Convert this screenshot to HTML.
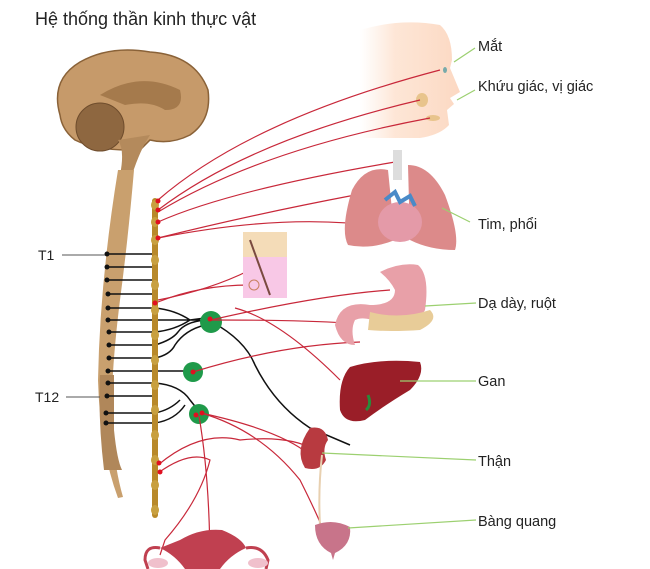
<!DOCTYPE html>
<html><head><meta charset="utf-8">
<style>
html,body{margin:0;padding:0;background:#fff;}
svg{display:block;}
text{font-family:"Liberation Sans",sans-serif;fill:#222;}
</style></head><body>
<svg width="650" height="569" viewBox="0 0 650 569" xmlns="http://www.w3.org/2000/svg">
<defs>
<linearGradient id="face" x1="0" y1="0" x2="1" y2="0"><stop offset="0" stop-color="#fde4d4" stop-opacity="0"/><stop offset="0.35" stop-color="#fde0cc" stop-opacity="0.8"/><stop offset="1" stop-color="#fcd8c2"/></linearGradient>
</defs>
<text x="35" y="25" font-size="18">Hệ thống thần kinh thực vật</text>

<!-- face -->
<path d="M360,30 Q400,18 440,25 Q452,35 452,60 L450,68 L460,92 L450,98 L454,104 L447,110 L449,125 Q440,135 420,138 L360,138Z" fill="url(#face)"/>
<ellipse cx="445" cy="70" rx="2" ry="3" fill="#7aa"/>
<ellipse cx="422" cy="100" rx="6" ry="7" fill="#e8c48c"/>
<ellipse cx="433" cy="118" rx="7" ry="3" fill="#e8c48c"/>

<!-- brain -->
<path d="M60,115 Q50,80 80,62 Q110,45 150,52 Q195,55 208,90 Q212,120 190,135 Q170,145 150,140 L140,150 L130,150 Q95,150 75,140 Q62,130 60,115Z" fill="#c69a6a" stroke="#8a6238" stroke-width="1.5"/>
<path d="M100,95 Q140,70 180,90 Q185,110 165,110 Q150,100 125,105Z" fill="#a57a4c"/>
<circle cx="100" cy="127" r="24" fill="#8e6740" stroke="#6e4c2c"/>
<path d="M118,140 Q125,150 120,175 L132,175 Q140,150 150,135Z" fill="#b48a5c"/>
<!-- spinal cord -->
<path d="M118,170 L134,170 Q128,240 120,300 Q110,380 112,430 Q115,470 123,497 L118,498 Q100,450 98,380 Q100,280 118,170Z" fill="#c9a06e"/>
<path d="M100,375 L114,375 L114,430 Q117,460 122,470 L104,470 Q98,420 100,375Z" fill="#b0875a"/>

<!-- horizontal black lines -->
<g stroke="#111" stroke-width="1.5" fill="none">
<path d="M107,254H155M107,267H155M107,280H155M108,294H155M108,308H155M108,320H155M109,332H155M109,345H155M109,358H155M108,371H155M108,383H155M107,396H155M106,413H155M106,423H155"/>
<path d="M155,308 Q175,310 190,320 L205,318 M155,320 H200 M155,332 Q175,330 190,320"/>
<path d="M155,345 Q172,340 178,332 Q185,322 205,320 M155,358 Q170,355 175,345 Q185,330 205,325"/>
<path d="M155,371 H190"/>
<path d="M155,383 Q180,385 190,400 L198,410 M155,413 Q170,410 180,400 M155,423 Q175,420 185,405"/>
<path d="M212,322 Q245,340 255,365 Q275,405 310,428 L350,445"/>
</g>
<g fill="#111">
<circle cx="107" cy="254" r="2.5"/><circle cx="107" cy="267" r="2.5"/><circle cx="107" cy="280" r="2.5"/><circle cx="108" cy="294" r="2.5"/><circle cx="108" cy="308" r="2.5"/><circle cx="108" cy="320" r="2.5"/><circle cx="109" cy="332" r="2.5"/><circle cx="109" cy="345" r="2.5"/><circle cx="109" cy="358" r="2.5"/><circle cx="108" cy="371" r="2.5"/><circle cx="108" cy="383" r="2.5"/><circle cx="107" cy="396" r="2.5"/><circle cx="106" cy="413" r="2.5"/><circle cx="106" cy="423" r="2.5"/>
</g>
<!-- sympathetic chain -->
<rect x="152" y="198" width="6" height="320" rx="3" fill="#b8892a"/>
<g fill="#c8a040">
<ellipse cx="155" cy="205" rx="4" ry="5"/><ellipse cx="155" cy="222" rx="4" ry="5"/><ellipse cx="155" cy="240" rx="4" ry="5"/>
<ellipse cx="155" cy="260" rx="4" ry="5"/><ellipse cx="155" cy="285" rx="4" ry="5"/><ellipse cx="155" cy="310" rx="4" ry="5"/><ellipse cx="155" cy="335" rx="4" ry="5"/><ellipse cx="155" cy="360" rx="4" ry="5"/><ellipse cx="155" cy="385" rx="4" ry="5"/><ellipse cx="155" cy="410" rx="4" ry="5"/><ellipse cx="155" cy="435" rx="4" ry="5"/><ellipse cx="155" cy="460" rx="4" ry="5"/><ellipse cx="155" cy="485" rx="4" ry="5"/><ellipse cx="155" cy="510" rx="4" ry="5"/>
</g>
<!-- ganglia -->
<circle cx="211" cy="322" r="11" fill="#1f9a4a"/>
<circle cx="193" cy="372" r="10" fill="#1f9a4a"/>
<circle cx="199" cy="414" r="10" fill="#1f9a4a"/>

<!-- red nerves -->
<g stroke="#c8283a" stroke-width="1.2" fill="none">
<path d="M158,200 Q250,120 440,70"/>
<path d="M158,210 Q250,140 420,100"/>
<path d="M158,212 Q260,150 430,118"/>
<path d="M158,222 Q230,190 395,162"/>
<path d="M158,238 Q250,215 355,195"/>
<path d="M158,238 Q300,210 400,230"/>
<path d="M158,302 Q200,285 250,285 L245,283"/>
<path d="M158,300 Q210,290 250,270"/>
<path d="M211,320 Q320,295 390,290"/>
<path d="M211,320 Q300,320 345,323"/>
<path d="M235,308 Q280,320 340,380"/>
<path d="M193,372 Q280,345 360,342"/>
<path d="M201,413 Q280,430 310,455"/>
<path d="M201,413 Q260,430 300,480 Q320,520 325,535"/>
<path d="M158,465 Q200,430 240,440 Q290,435 315,450"/>
<path d="M158,473 Q190,450 210,460 Q200,500 165,540 L160,555"/>
<path d="M199,416 Q210,480 210,569"/>
</g>
<g fill="#e01020">
<circle cx="158" cy="201" r="2.5"/><circle cx="158" cy="210" r="2.5"/><circle cx="158" cy="222" r="2.5"/><circle cx="158" cy="238" r="2.5"/><circle cx="155" cy="303" r="2.5"/><circle cx="210" cy="319" r="2.5"/><circle cx="193" cy="372" r="2.5"/><circle cx="196" cy="415" r="2.5"/><circle cx="202" cy="413" r="2.5"/><circle cx="159" cy="463" r="2.5"/><circle cx="160" cy="472" r="2.5"/>
</g>

<!-- skin -->
<rect x="243" y="232" width="44" height="66" fill="#f8c8e6"/>
<rect x="243" y="232" width="44" height="25" fill="#f4dcb8"/>
<path d="M250,240 L270,295" stroke="#7a4a40" stroke-width="2"/>
<circle cx="254" cy="285" r="5" fill="none" stroke="#c88060"/>

<!-- lungs -->
<rect x="393" y="150" width="9" height="30" fill="#ddd"/>
<path d="M388,170 Q365,165 352,190 Q340,230 348,245 Q370,250 395,240Z" fill="#dc8a8a"/>
<path d="M408,165 Q430,165 445,195 Q460,235 455,250 Q430,250 410,240Z" fill="#dc8a8a"/>
<ellipse cx="400" cy="222" rx="22" ry="20" fill="#e49aa8"/>
<path d="M385,200 l10,-8 5,10 10,-6 5,10" stroke="#4a8ac8" stroke-width="4" fill="none"/>

<!-- stomach -->
<path d="M380,272 Q400,262 418,265 Q430,275 425,310 Q415,330 385,325 Q365,315 355,320 Q350,330 355,345 Q340,345 335,325 Q340,300 370,305 Q395,305 395,290 Q390,280 380,272Z" fill="#e8a0a8"/>
<path d="M370,312 Q400,320 430,310 Q440,320 420,330 Q390,332 368,330Z" fill="#e8cc98"/>

<!-- liver -->
<path d="M350,367 Q380,358 420,362 Q425,375 410,390 Q385,405 365,420 Q345,425 340,410 Q338,380 350,367Z" fill="#9a1e28"/>
<path d="M368,395 Q372,405 366,410" stroke="#2a8a3a" stroke-width="3" fill="none"/>

<!-- kidney & bladder -->
<path d="M310,428 Q325,425 328,440 Q322,448 326,460 Q320,472 305,468 Q294,450 310,428Z" fill="#b83a40"/>
<path d="M322,455 Q318,490 320,525" stroke="#e8d0b0" stroke-width="2" fill="none"/>
<path d="M315,525 Q333,518 350,527 Q352,545 335,553 L333,560 L331,553 Q315,545 315,525Z" fill="#c8748a"/>

<!-- uterus -->
<path d="M180,540 Q200,528 222,530 Q242,538 246,548 Q230,555 220,569 L185,569 Q175,555 160,548Z" fill="#c04050"/>
<path d="M160,548 Q145,545 145,560 L148,569 M246,548 Q262,545 268,560 L266,569" stroke="#c04050" stroke-width="3" fill="none"/>
<ellipse cx="158" cy="563" rx="10" ry="5" fill="#f0c0cc"/>
<ellipse cx="258" cy="563" rx="10" ry="5" fill="#f0c0cc"/>

<!-- leader lines -->
<g stroke="#9cd070" stroke-width="1.2" fill="none">
<path d="M454,62 L475,48"/>
<path d="M457,100 L475,90"/>
<path d="M442,208 L470,222"/>
<path d="M425,306 L476,303"/>
<path d="M400,381 L476,381"/>
<path d="M322,453 L476,460"/>
<path d="M348,528 L476,520"/>
</g>
<g stroke="#555" stroke-width="1"><path d="M62,255H105M66,397H100"/></g>

<g font-size="14.5">
<text x="478" y="51">Mắt</text>
<text x="478" y="91">Khứu giác, vị giác</text>
<text x="478" y="229">Tim, phổi</text>
<text x="478" y="308">Dạ dày, ruột</text>
<text x="478" y="386">Gan</text>
<text x="478" y="466">Thận</text>
<text x="478" y="526">Bàng quang</text>
<text x="38" y="260" font-size="14">T1</text>
<text x="35" y="402" font-size="14">T12</text>
</g>
</svg>
</body></html>
